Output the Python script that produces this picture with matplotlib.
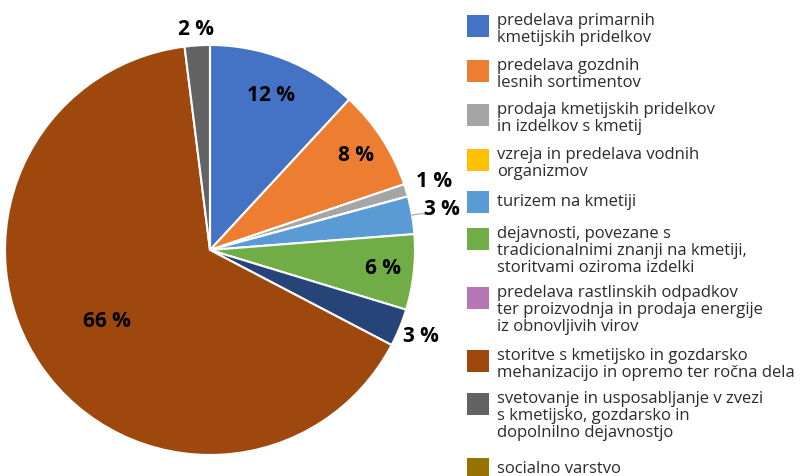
import matplotlib.pyplot as plt
from matplotlib.patches import Rectangle
import numpy as np

# categories (legend order), last one is cut off at the bottom of the image
categories = [
    "predelava primarnih\nkmetijskih pridelkov",
    "predelava gozdnih\nlesnih sortimentov",
    "prodaja kmetijskih pridelkov\nin izdelkov s kmetij",
    "vzreja in predelava vodnih\norganizmov",
    "turizem na kmetiji",
    "dejavnosti, povezane s\ntradicionalnimi znanji na kmetiji,\nstoritvami oziroma izdelki",
    "predelava rastlinskih odpadkov\nter proizvodnja in prodaja energije\niz obnovljivih virov",
    "storitve s kmetijsko in gozdarsko\nmehanizacijo in opremo ter ročna dela",
    "svetovanje in usposabljanje v zvezi\ns kmetijsko, gozdarsko in\ndopolnilno dejavnostjo",
    "socialno varstvo",
]
shares = [12, 8, 1, 0, 3, 6, 3, 66, 2, 0]

legend_colors = ["#4472C4", "#ED7D31", "#A5A5A5", "#FFC000", "#5B9BD5",
                 "#70AD47", "#B576B3", "#9E480E", "#636363", "#997300"]
wedge_colors = ["#4472C4", "#ED7D31", "#A5A5A5", "#FFC000", "#5B9BD5",
                "#70AD47", "#264478", "#9E480E", "#636363", "#997300"]

# label distance from centre for each slice (None = no label)
label_r = [0.81, 0.85, 1.14, None, 1.15, 0.85, 1.11, 0.61, 1.08, None]

fig = plt.figure(figsize=(8, 4.76), dpi=100)
ax = fig.add_axes([5 / 800, 21 / 476, 410 / 800, 410 / 476])

wedges, _ = ax.pie(shares, colors=wedge_colors, startangle=90, counterclock=False,
                   wedgeprops=dict(edgecolor="white", linewidth=1.5))
ax.set_xlim(-1, 1)
ax.set_ylim(-1, 1)
ax.set_aspect("equal")
ax.axis("off")

for w, v, r in zip(wedges, shares, label_r):
    if r is None or v == 0:
        continue
    mid = np.deg2rad((w.theta1 + w.theta2) / 2)
    ax.text(r * np.cos(mid), r * np.sin(mid), f"{v} %", ha="center", va="center",
            fontsize=15, fontweight="bold", family="Open Sans", color="black",
            clip_on=False)

# small leader line for the turizem slice
w = wedges[4]
mid = np.deg2rad((w.theta1 + w.theta2) / 2)
ax.plot([1.0 * np.cos(mid), 1.04 * np.cos(mid), 1.07 * np.cos(mid)],
        [1.0 * np.sin(mid), 1.04 * np.sin(mid), 1.04 * np.sin(mid)],
        color="#A6A6A6", lw=0.8, clip_on=False)

# legend drawn by hand
item_tops = [15, 60, 104, 149, 191, 228, 287, 350, 393, 458]
for name, col, top in zip(categories, legend_colors, item_tops):
    fig.patches.append(Rectangle((467 / 800, 1 - (top + 22) / 476), 22 / 800, 22 / 476,
                                 transform=fig.transFigure, facecolor=col,
                                 edgecolor="none"))
    if "\n" in name:
        fig.text(497 / 800, 1 - (top - 2) / 476, name, ha="left", va="top",
                 fontsize=12, family="Open Sans", color="#2b2b2b", linespacing=1.08)
    else:
        fig.text(497 / 800, 1 - (top + 11) / 476, name, ha="left", va="center",
                 fontsize=12, family="Open Sans", color="#2b2b2b")

fig.savefig("out.png", dpi=100)
